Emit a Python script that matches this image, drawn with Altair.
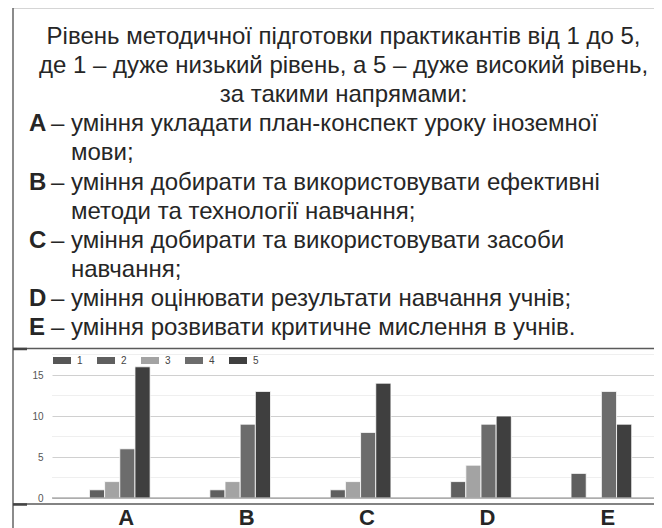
import altair as alt
import pandas as pd

# ---------------- data ----------------
categories = ["A", "B", "C", "D", "E"]
levels = ["1", "2", "3", "4", "5"]
level1 = [0, 0, 0, 0, 0]
level2 = [1, 1, 1, 2, 3]
level3 = [2, 2, 2, 4, 0]
level4 = [6, 9, 8, 9, 13]
level5 = [16, 13, 14, 10, 9]
level_colors = ["#565656", "#5f5f5f", "#a3a3a3", "#6c6c6c", "#3f3f3f"]

major_ticks = [0, 5, 10, 15]
minor_grid = [2.5, 7.5, 12.5, 17.5]

title_lines = [
    "Рівень методичної підготовки практикантів від 1 до 5,",
    "де 1 – дуже низький рівень, а 5 – дуже високий рівень,",
    "за такими напрямами:",
]
item_letters = ["A", "B", "C", "D", "E"]
item_first_lines = [
    "– уміння укладати план-конспект уроку іноземної",
    "– уміння добирати та використовувати ефективні",
    "– уміння добирати та використовувати засоби",
    "– уміння оцінювати результати навчання учнів;",
    "– уміння розвивати критичне мислення в учнів.",
]
item_continuations = [["мови;"], ["методи та технології навчання;"], ["навчання;"], [], []]

# ---------------- tables ----------------
series = [level1, level2, level3, level4, level5]
bar_rows = []
for li, lv in enumerate(levels):
    for ci, c in enumerate(categories):
        bar_rows.append({"cat": c, "level": lv, "value": series[li][ci]})
bars_df = pd.DataFrame(bar_rows)

center_rows, letter_rows, first_rows, cont_rows = [], [], [], []
line = 0
for t in title_lines:
    center_rows.append({"line": line, "text": t})
    line += 1
for L, first, conts in zip(item_letters, item_first_lines, item_continuations):
    letter_rows.append({"line": line, "text": L})
    first_rows.append({"line": line, "text": first})
    line += 1
    for c in conts:
        cont_rows.append({"line": line, "text": c})
        line += 1
n_lines = line

FONT = "Liberation Sans"
TXT = "#262626"
FS = 24
W, H = 602, 490

text_y = alt.Scale(domain=[0, n_lines - 1], range=[36, 327])
bar_y = alt.Scale(domain=[0, 17.5], range=[490, 346.5], nice=False, zero=True)

def text_layer(rows, x, align, weight="normal"):
    return alt.Chart(pd.DataFrame(rows)).mark_text(
        align=align, baseline="alphabetic", fontSize=FS, font=FONT,
        color=TXT, fontWeight=weight
    ).encode(
        x=alt.value(x),
        y=alt.Y("line:Q", scale=text_y, axis=None),
        text="text:N",
    )

texts = alt.layer(
    text_layer(center_rows, 291.5, "center"),
    text_layer(letter_rows, -23, "left", "bold"),
    text_layer(first_rows, -1, "left"),
    text_layer(cont_rows, 19, "left"),
)

minor = alt.Chart(pd.DataFrame({"v": minor_grid})).mark_rule(
    color="#efefef", strokeWidth=1
).encode(
    y=alt.Y("v:Q", scale=bar_y),
    x=alt.value(0), x2=alt.value(W),
)

base_line = alt.Chart(pd.DataFrame({"v": [0]})).mark_rule(
    color="#8a8a8a", strokeWidth=1.2
).encode(
    y=alt.Y("v:Q", scale=bar_y),
    x=alt.value(0), x2=alt.value(W),
)

bars = alt.Chart(bars_df).transform_filter("datum.value > 0").mark_bar(
    stroke="white", strokeWidth=0.8
).encode(
    x=alt.X(
        "cat:N", sort=categories,
        scale=alt.Scale(domain=categories, paddingInner=0.37, paddingOuter=0.185),
        axis=alt.Axis(
            title=None, labelAngle=0, labelFontSize=22, labelFontWeight="bold",
            labelFont=FONT, labelColor=TXT, domain=False, ticks=False, tickSize=0,
            labelPadding=9, labelOffset=14, grid=False,
        ),
    ),
    xOffset=alt.XOffset(
        "level:N",
        scale=alt.Scale(domain=levels, paddingInner=0, paddingOuter=0),
    ),
    y=alt.Y(
        "value:Q", scale=bar_y,
        axis=alt.Axis(
            title=None, values=major_ticks, grid=True, gridColor="#d0d0d0",
            domain=False, ticks=False, labelPadding=9, labelFontSize=10,
            labelFont=FONT, labelColor="#555555",
        ),
    ),
    color=alt.Color(
        "level:N",
        scale=alt.Scale(domain=levels, range=level_colors),
        legend=alt.Legend(
            title=None, orient="none", legendX=1, legendY=343.5,
            direction="horizontal",
            symbolType="M-1,-0.389H1V0.389H-1Z", symbolSize=324,
            symbolStrokeWidth=0, symbolOpacity=1,
            labelFontSize=10, labelFont=FONT, labelColor="#444444",
            labelOffset=6, columnPadding=14,
        ),
    ),
)

chart_part = alt.layer(minor, bars, base_line)

dummy = pd.DataFrame({"k": [0]})
def rule(x, x2, y, y2=None, color="#5a5a5a", sw=1.4):
    enc = dict(x=alt.value(x), y=alt.value(y))
    if x2 is not None:
        enc["x2"] = alt.value(x2)
    if y2 is not None:
        enc["y2"] = alt.value(y2)
    return alt.Chart(dummy).mark_rule(color=color, strokeWidth=sw).encode(**enc)

frames = alt.layer(
    rule(-39, None, -0.5, 520),
    rule(-39, W, -0.5),
    rule(-39, W, 340.5),
    rule(-39, W, 496),
    rule(-39, -25, 341, color="#444444", sw=2.5),
    rule(-39, -25, 496.5, color="#444444", sw=2.5),
)

chart = alt.layer(frames, texts, chart_part).resolve_scale(
    y="independent", x="independent"
).properties(
    width=W, height=H,
    autosize=alt.AutoSizeParams(type="none"),
    padding={"left": 44, "top": 0, "right": 0, "bottom": 30},
    background="white",
).configure_view(stroke=None)

chart.save("out.html", embed_options={"renderer": "svg", "actions": False})
